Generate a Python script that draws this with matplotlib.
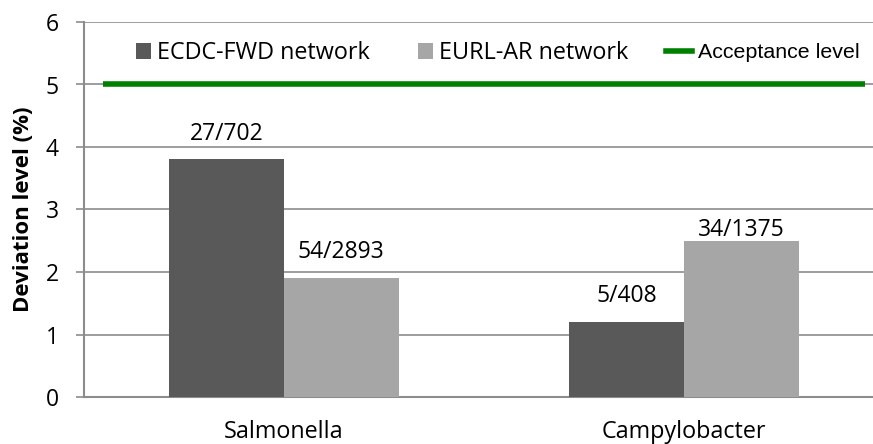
import matplotlib
matplotlib.use("Agg")
import matplotlib.pyplot as plt
import numpy as np

categories = ["Salmonella", "Campylobacter"]
ecdc_values = [3.8, 1.2]
eurl_values = [1.9, 2.5]
ecdc_labels = ["27/702", "5/408"]
eurl_labels = ["54/2893", "34/1375"]
acceptance_level = 5
y_ticks = [0, 1, 2, 3, 4, 5, 6]

# label offsets above bar tops (points)
ecdc_offsets = [14.4, 14.4]
eurl_offsets = [14.4, 3.6]

font = ["Open Sans", "DejaVu Sans"]
plt.rcParams['font.family'] = font

W, H = 873, 444
fig = plt.figure(figsize=(W / 100, H / 100), dpi=100)
ax = fig.add_axes([84 / W, 1 - 397 / H, 1 - 84 / W, 375 / H])

x = np.arange(len(categories))
w = 0.2865
b1 = ax.bar(x - w/2, ecdc_values, w, color="#595959", zorder=3)
b2 = ax.bar(x + w/2, eurl_values, w, color="#A6A6A6", zorder=3)
ax.hlines(acceptance_level, -0.4525, 1.4525, color="#008000", lw=4, zorder=4)
line_handle = plt.Line2D([], [], color="#008000", lw=4)

for xi, v, t, o in zip(x - w/2, ecdc_values, ecdc_labels, ecdc_offsets):
    ax.annotate(t, (xi, v), xytext=(0, o), textcoords="offset points",
                ha="center", va="baseline", fontsize=16.5, color="#000000")
for xi, v, t, o in zip(x + w/2, eurl_values, eurl_labels, eurl_offsets):
    ax.annotate(t, (xi, v), xytext=(0, o), textcoords="offset points",
                ha="center", va="baseline", fontsize=16.5, color="#000000")

ax.set_xlim(-0.5, 1.4725)
ax.set_ylim(0, 6)
ax.set_yticks(y_ticks)
ax.set_yticklabels([str(t) for t in y_ticks], fontsize=16.5)
ax.set_xticks(x)
ax.set_xticklabels(categories, fontsize=16.8)
ax.tick_params(axis="x", length=0, pad=16.5)
ax.tick_params(axis="y", length=6, color="#8C8C8C", width=1.2, pad=12)
ax.yaxis.grid(True, color="#8C8C8C", lw=1.2, zorder=0)
ax.set_axisbelow(True)
for s in ["top", "right"]:
    ax.spines[s].set_visible(False)
for s in ["left", "bottom"]:
    ax.spines[s].set_color("#8C8C8C")
    ax.spines[s].set_linewidth(1.5)
ax.set_ylabel("Deviation level (%)", fontsize=16, fontweight="bold")
ax.yaxis.set_label_coords((34 - 84) / (W - 84), 0.5)

def add_leg(handle, text, x0, fs, hl, hh, family=None):
    lg = fig.legend([handle], [text], loc="center left",
                    bbox_to_anchor=(x0 / W, 1 - 53 / H), frameon=False,
                    fontsize=fs, handlelength=hl, handleheight=hh,
                    handletextpad=6 / (fs * 1.389), borderpad=0, borderaxespad=0)
    if family:
        lg.get_texts()[0].set_family(family)
    return lg

fsl = 16.8
add_leg(b1, "ECDC-FWD network", 136, fsl, 15 / (fsl * 1.389), 15 / (fsl * 1.389))
add_leg(b2, "EURL-AR network", 418, fsl, 15 / (fsl * 1.389), 15 / (fsl * 1.389))
add_leg(line_handle, "Acceptance level", 666, 15.4, 26 / (15.4 * 1.389), 0.7,
        family=["Liberation Sans", "DejaVu Sans"])

fig.savefig("out.png", dpi=100)
